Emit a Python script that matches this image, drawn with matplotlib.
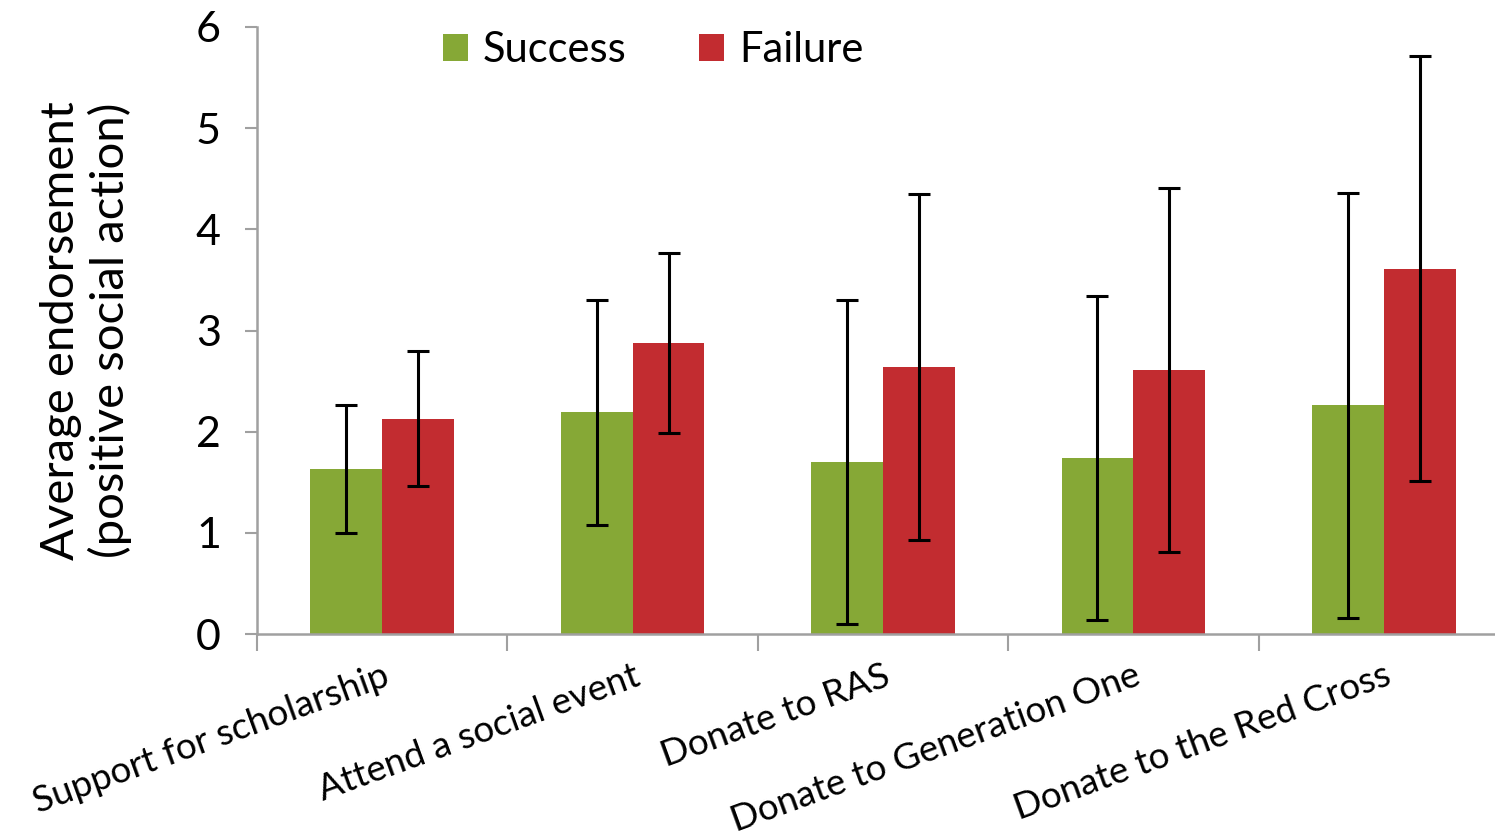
import matplotlib.pyplot as plt
import numpy as np

plt.rcParams['font.family'] = ['Lato', 'DejaVu Sans']

categories = ['Support for scholarship', 'Attend a social event', 'Donate to RAS',
              'Donate to Generation One', 'Donate to the Red Cross']
success = [1.63, 2.19, 1.70, 1.74, 2.26]
success_err = [0.63, 1.11, 1.60, 1.60, 2.10]
failure = [2.13, 2.88, 2.64, 2.61, 3.61]
failure_err = [0.67, 0.89, 1.71, 1.80, 2.10]

green = '#86a836'
red = '#c22c30'
grey = '#a0a0a0'

fig = plt.figure(figsize=(14.95, 8.4), dpi=100)
ax = fig.add_axes([257 / 1495, 1 - 634 / 840, (1494 - 257) / 1495, (634 - 27) / 840])

x = np.arange(len(categories))
width = 0.287
ekw = dict(ecolor='black', elinewidth=2.2, capsize=8, capthick=2.2)
ax.bar(x - width / 2, success, width, color=green, label='Success',
       yerr=success_err, error_kw=ekw)
ax.bar(x + width / 2, failure, width, color=red, label='Failure',
       yerr=failure_err, error_kw=ekw)

ax.set_yticks(range(7))
ax.tick_params(axis='y', labelsize=31, length=9, width=1.5, color=grey, pad=17)

ax.set_xticks(np.arange(len(categories) + 1) - 0.5)
ax.set_xticklabels([])
ax.tick_params(axis='x', length=12, width=1.5, color=grey)
ax.set_xticks(x, minor=True)
ax.set_xticklabels(categories, minor=True, rotation=20, ha='right', va='top',
                   rotation_mode='anchor', fontsize=26.5)
ax.tick_params(axis='x', which='minor', length=0, pad=18)

ax.set_xlim(-0.5, 4.44)
ax.set_ylim(0, 6)

for s in ['top', 'right']:
    ax.spines[s].set_visible(False)
for s in ['left', 'bottom']:
    ax.spines[s].set_color(grey)
    ax.spines[s].set_linewidth(1.8)

ax.set_ylabel('Average endorsement\n(positive social action)', fontsize=34, labelpad=46,
              linespacing=1.15)

ax.legend(loc='upper left', bbox_to_anchor=(0.12, 1.055), ncol=2, frameon=False,
          fontsize=30, handlelength=0.6, handleheight=0.6, handletextpad=0.35,
          columnspacing=1.75)

fig.savefig('out.png', dpi=100)
